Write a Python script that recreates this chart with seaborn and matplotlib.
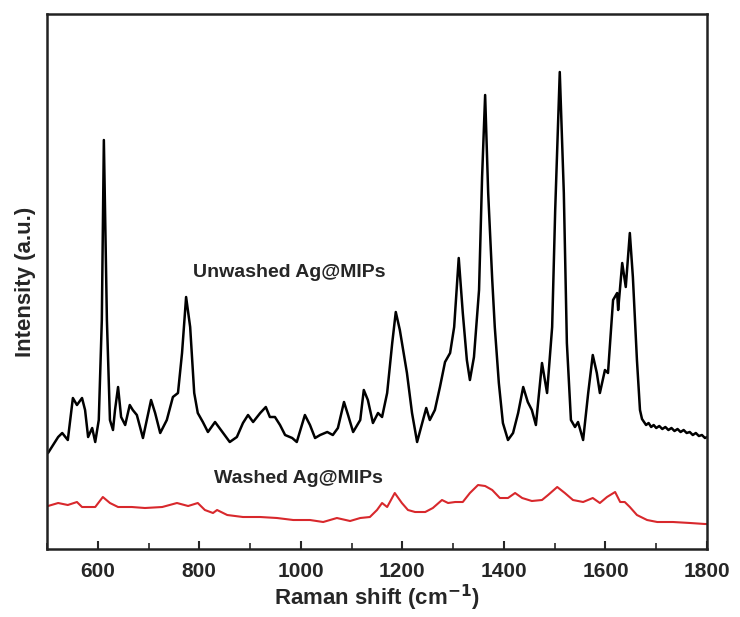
import numpy as np
import pandas as pd
import matplotlib
matplotlib.use("Agg")
import matplotlib.pyplot as plt
import seaborn as sns
from matplotlib.ticker import MultipleLocator

# Raman spektrum (intensitas dalam satuan relatif)
unwashed_shift = [502, 522, 530, 541, 551, 559, 569, 575, 581, 589, 595, 602, 608, 612, 618,
                  624, 630, 634, 640, 646, 654, 663, 669, 677, 689, 705, 713, 723, 736, 748,
                  758, 766, 774, 782, 790, 797, 807, 817, 831, 847, 860, 874, 886, 896, 906,
                  920, 931, 939, 949, 959, 969, 983, 992, 1008, 1018, 1028, 1038, 1052, 1063,
                  1073, 1085, 1093, 1103, 1117, 1124, 1132, 1142, 1152, 1160, 1170, 1180, 1187,
                  1195, 1209, 1219, 1229, 1239, 1247, 1254, 1264, 1274, 1284, 1294, 1302, 1311,
                  1319, 1327, 1333, 1341, 1351, 1357, 1363, 1369, 1377, 1382, 1390, 1398, 1408,
                  1418, 1428, 1438, 1447, 1455, 1463, 1475, 1485, 1495, 1501, 1510, 1518, 1524,
                  1532, 1540, 1546, 1556, 1566, 1575, 1583, 1589, 1599, 1605, 1615, 1623, 1625,
                  1633, 1640, 1648, 1654, 1662, 1668, 1672, 1676, 1680, 1685, 1690, 1695, 1700,
                  1706, 1712, 1718, 1724, 1730, 1736, 1742, 1748, 1754, 1760, 1766, 1772, 1778,
                  1784, 1790, 1796, 1800]
unwashed_int = [96, 112, 116, 109, 151, 144, 151, 139, 112, 121, 107, 129, 229, 409, 229,
                129, 119, 139, 162, 132, 124, 144, 139, 134, 111, 149, 136, 116, 129, 152,
                156, 196, 252, 222, 156, 136, 127, 117, 127, 116, 107, 112, 126, 134, 127,
                136, 142, 132, 132, 124, 114, 111, 107, 134, 124, 111, 114, 117, 114,
                121, 147, 134, 117, 129, 159, 149, 126, 136, 132, 156, 206, 237,
                219, 176, 136, 107, 126, 141, 129, 139, 162, 187, 196, 222, 291,
                236, 189, 169, 192, 259, 372, 454, 356, 269, 222, 166, 126, 109,
                116, 136, 162, 147, 139, 124, 186, 156, 222, 339, 477, 356, 206,
                129, 122, 127, 109, 156, 194, 176, 156, 179, 176, 249, 256, 239,
                286, 262, 316, 272, 189, 139, 130, 127, 124, 126, 122, 124, 121,
                123, 120, 122, 119, 121, 118, 120, 117, 119, 116, 117, 114, 116,
                113, 114, 111, 112]

washed_shift = [502, 522, 541, 559, 569, 595, 610, 624, 640, 667, 693, 727, 756, 778, 797,
                811, 827, 835, 855, 886, 920, 953, 985, 1018, 1044, 1071, 1097, 1117, 1136,
                1150, 1160, 1170, 1185, 1199, 1211, 1225, 1245, 1260, 1278, 1290, 1304, 1319,
                1333, 1349, 1363, 1377, 1392, 1408, 1422, 1436, 1455, 1475, 1487, 1505, 1520,
                1536, 1556, 1575, 1589, 1603, 1619, 1629, 1638, 1648, 1662, 1682, 1702, 1733,
                1767, 1796, 1800]
washed_int = [43, 46, 44, 47, 42, 42, 52, 46, 42, 42, 41, 42, 46, 43, 46,
              39, 36, 39, 34, 32, 32, 31, 29, 29, 27, 31, 28, 31, 32,
              39, 46, 42, 56, 46, 39, 37, 37, 41, 49, 46, 47, 47,
              56, 64, 63, 59, 51, 51, 56, 51, 48, 49, 54, 62, 56,
              49, 47, 51, 46, 52, 57, 47, 47, 42, 34, 29, 27, 27,
              26, 25, 25]

x_ticks = [600, 800, 1000, 1200, 1400, 1600, 1800]

df_unwashed = pd.DataFrame({"shift": unwashed_shift, "intensity": unwashed_int})
df_washed = pd.DataFrame({"shift": washed_shift, "intensity": washed_int})

sns.set_style("ticks")
plt.rcParams["font.family"] = ["Liberation Sans", "DejaVu Sans"]
plt.rcParams["font.weight"] = "bold"
plt.rcParams["mathtext.default"] = "bf"

fig = plt.figure(figsize=(7.4, 6.17), dpi=100)
ax = fig.add_axes([0.0635, 0.1102, 0.8919, 0.8671])

sns.lineplot(data=df_unwashed, x="shift", y="intensity", color="black", linewidth=1.8,
             sort=False, estimator=None, ax=ax)
sns.lineplot(data=df_washed, x="shift", y="intensity", color="#d8282c", linewidth=1.5,
             sort=False, estimator=None, ax=ax)

ax.text(788, 277, "Unwashed Ag@MIPs", fontsize=14, fontweight="bold", va="center", ha="left")
ax.text(828, 71, "Washed Ag@MIPs", fontsize=14, fontweight="bold", va="center", ha="left")

ax.set_xlim(500, 1800)
ax.set_ylim(0, 535)
ax.set_xticks(x_ticks)
ax.xaxis.set_minor_locator(MultipleLocator(100))
ax.set_yticks([])
ax.tick_params(axis="x", which="major", direction="in", length=6, width=1.5,
               labelsize=15, pad=9)
ax.tick_params(axis="x", which="minor", direction="in", length=4, width=1.2)
for lbl in ax.get_xticklabels():
    lbl.set_fontweight("bold")

for sp in ax.spines.values():
    sp.set_visible(True)
    sp.set_linewidth(1.8)
    sp.set_color("#222222")

ax.set_xlabel("Raman shift (cm$^{-1}$)", fontsize=16, fontweight="bold", labelpad=2)
ax.set_ylabel("Intensity (a.u.)", fontsize=16, fontweight="bold", labelpad=8)

fig.savefig("out.png", dpi=100)
